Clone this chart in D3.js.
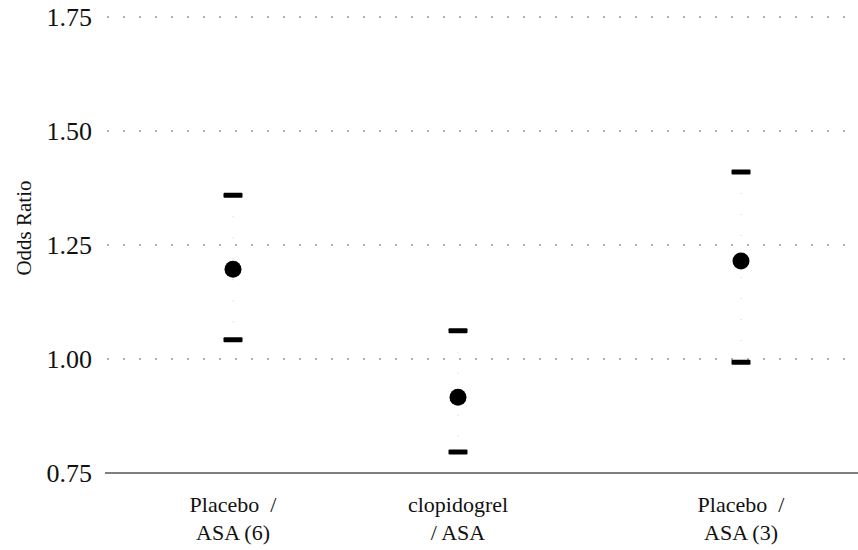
<!DOCTYPE html>
<html>
<head>
<meta charset="utf-8">
<script src="https://cdn.jsdelivr.net/npm/d3@7"></script>
<style>
  body { margin: 0; background: #fff; }
  svg text { font-family: "Liberation Serif", "Times New Roman", serif; fill: #111; }
</style>
</head>
<body>
<div id="chart"></div>
<script>
// Data
const groups = ["Placebo / ASA (6)", "clopidogrel / ASA", "Placebo / ASA (3)"];
const labelLines = [["Placebo\u00a0\u00a0/", "ASA (6)"], ["clopidogrel", "/ ASA"], ["Placebo\u00a0\u00a0/", "ASA (3)"]];
const oddsRatio = [1.197, 0.916, 1.215];
const lowerCI = [1.042, 0.796, 0.993];
const upperCI = [1.359, 1.062, 1.41];
const yTicks = [0.75, 1.00, 1.25, 1.50, 1.75];

const width = 858, height = 550;
const margin = { top: 17, right: 0, bottom: 77, left: 105 };

const svg = d3.select("#chart").append("svg")
    .attr("width", width)
    .attr("height", height);

// group centres are not evenly spaced in the original
const xPos = [233, 458, 741];
const x = d3.scaleOrdinal()
    .domain(groups)
    .range(xPos);

const y = d3.scaleLinear()
    .domain([0.75, 1.75])
    .range([height - margin.bottom, margin.top]);

// Grid lines (dotted)
svg.append("g")
  .selectAll("line")
  .data(yTicks.filter(d => d > 0.75))
  .join("line")
    .attr("x1", margin.left + 2)
    .attr("x2", width)
    .attr("y1", d => y(d))
    .attr("y2", d => y(d))
    .attr("stroke", "#666")
    .attr("stroke-width", 1)
    .attr("stroke-dasharray", "2,14");

// Baseline
svg.append("line")
    .attr("x1", margin.left)
    .attr("x2", width)
    .attr("y1", y(0.75))
    .attr("y2", y(0.75))
    .attr("stroke", "#555")
    .attr("stroke-width", 1.3);

// Y tick labels
const yAxis = d3.axisLeft(y)
    .tickValues(yTicks)
    .tickFormat(d3.format(".2f"))
    .tickSize(0)
    .tickPadding(0);

const gy = svg.append("g")
    .attr("transform", `translate(92,0)`)
    .call(yAxis);
gy.select(".domain").remove();
gy.selectAll("text")
    .style("font-size", "26px")
    .style("font-family", "'Liberation Serif', serif")
    .attr("fill", "#111");

// Y axis title
svg.append("text")
    .attr("transform", `translate(31,228) rotate(-90)`)
    .attr("text-anchor", "middle")
    .style("font-size", "21px")
    .text("Odds Ratio");

// Faint connecting dots between caps
svg.append("g")
  .selectAll("line")
  .data(groups)
  .join("line")
    .attr("x1", d => x(d))
    .attr("x2", d => x(d))
    .attr("y1", (d, i) => y(upperCI[i]))
    .attr("y2", (d, i) => y(lowerCI[i]))
    .attr("stroke", "#ccc")
    .attr("stroke-width", 1)
    .attr("stroke-dasharray", "1,20");

// CI caps
const capW = 19, capH = 5;
svg.append("g")
  .selectAll("rect")
  .data(groups.flatMap((g, i) => [{ g, v: upperCI[i] }, { g, v: lowerCI[i] }]))
  .join("rect")
    .attr("x", d => x(d.g) - capW / 2)
    .attr("y", d => y(d.v) - capH / 2)
    .attr("width", capW)
    .attr("height", capH)
    .attr("rx", 1)
    .attr("fill", "#000");

// Point estimates
svg.append("g")
  .selectAll("circle")
  .data(groups)
  .join("circle")
    .attr("cx", d => x(d))
    .attr("cy", (d, i) => y(oddsRatio[i]))
    .attr("r", 8.5)
    .attr("fill", "#000");

// Category labels
const cats = svg.append("g")
  .selectAll("text")
  .data(groups)
  .join("text")
    .attr("text-anchor", "middle")
    .style("font-size", "22px");

cats.each(function(d, i) {
  const t = d3.select(this);
  labelLines[i].forEach((line, k) => {
    t.append("tspan")
      .attr("x", x(d))
      .attr("y", 512 + k * 28)
      .text(line);
  });
});
</script>
</body>
</html>
